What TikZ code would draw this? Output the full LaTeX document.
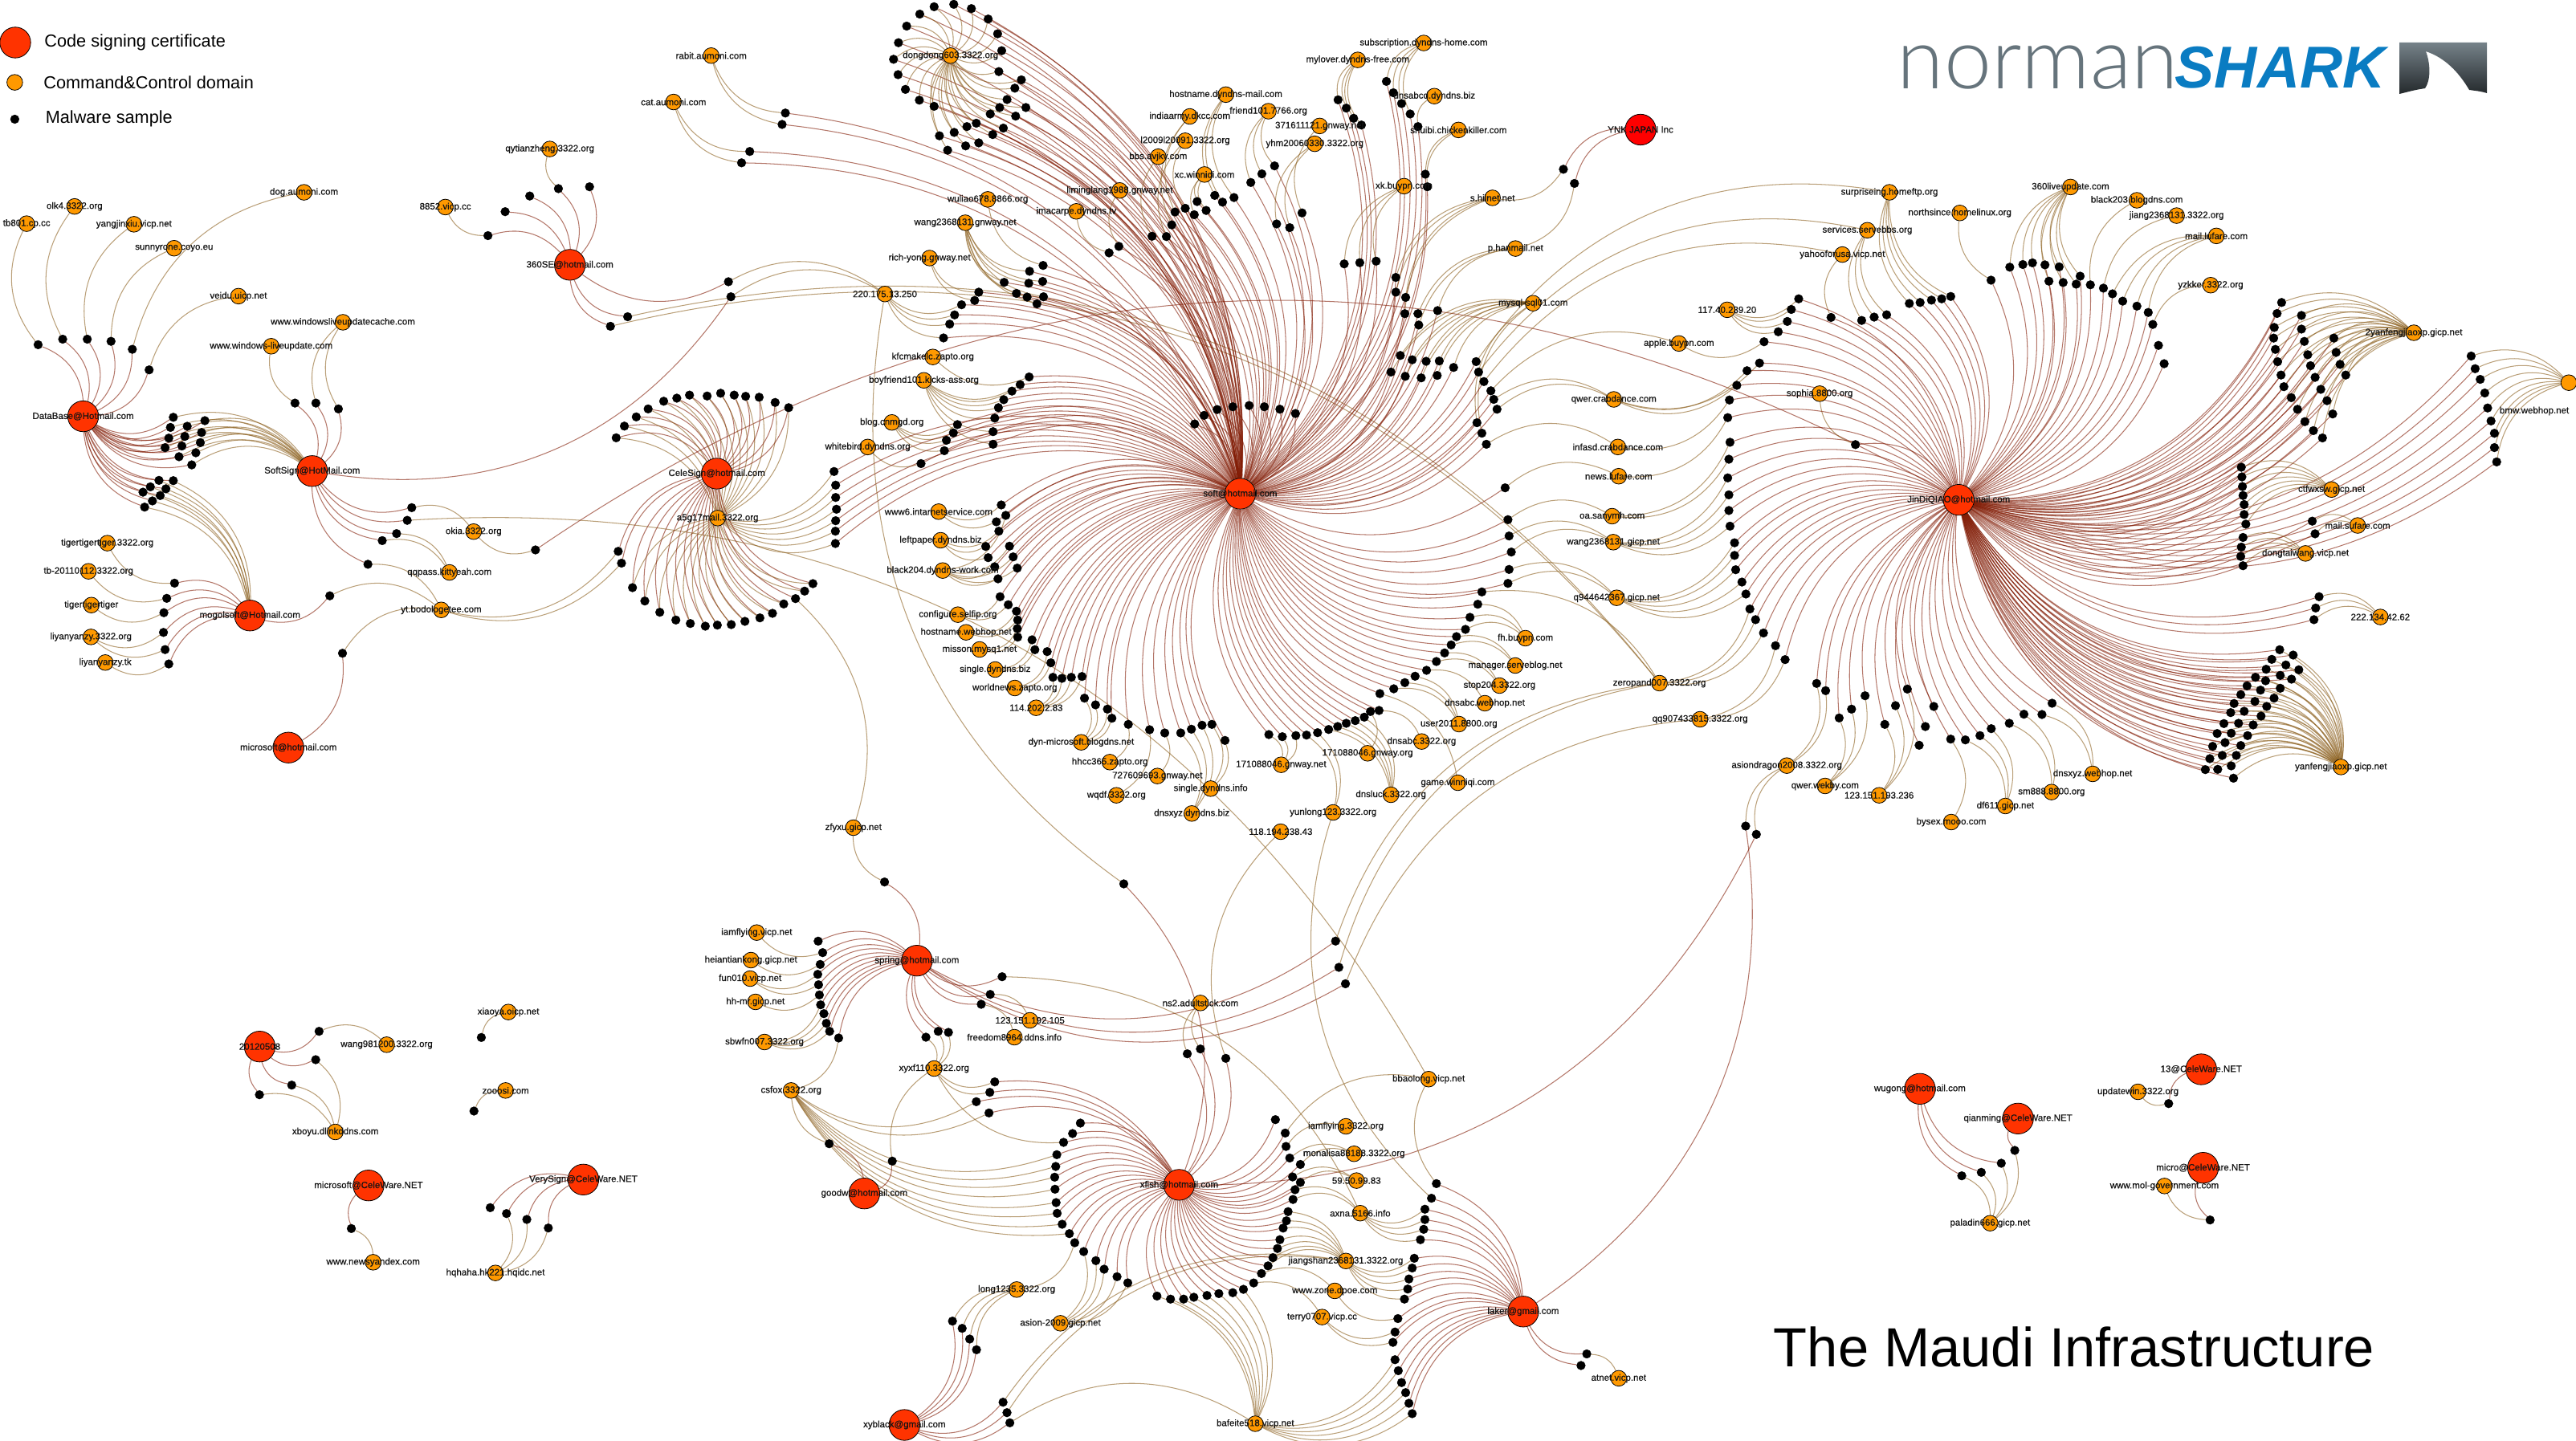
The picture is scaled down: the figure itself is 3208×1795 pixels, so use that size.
\documentclass[tikz,border=0pt]{standalone}
\usepackage{fontspec}
\setmainfont{Liberation Sans}
\newfontfamily\logothin{Lato}[UprightFont={* Light}]
\newfontfamily\labfont[RawFeature={embolden=0.5}]{Liberation Sans}
\pgfdeclarelayer{bgl}\pgfdeclarelayer{edges}\pgfdeclarelayer{dots}
\pgfsetlayers{bgl,edges,dots,main}
\definecolor{certred}{HTML}{FF3300}
\definecolor{domor}{HTML}{FF9900}
\definecolor{edgered}{RGB}{130,28,5}
\definecolor{edgetan}{RGB}{140,96,30}
\definecolor{sharkblue}{HTML}{0A7CC2}
\definecolor{logogray}{HTML}{66747C}
\tikzset{
 x=.25pt,y=-.25pt,
 certnode/.style={circle,draw=black,line width=.2pt,fill=certred,minimum size=9.6pt,inner sep=0pt},
 domnode/.style={circle,draw=black,line width=.2pt,fill=domor,minimum size=4.9pt,inner sep=0pt},
 smpnode/.style={circle,draw=black,line width=.1pt,fill=black,minimum size=2.7pt,inner sep=0pt},
 lab/.style={font=\labfont\fontsize{2.875}{3}\selectfont,inner sep=0pt,text=black!92},
 legtext/.style={font=\fontsize{5.425}{6}\selectfont,inner sep=0pt,anchor=west},
 certedge/.style={draw=edgered,draw opacity=.6,line width=.26pt},
 domedge/.style={draw=edgetan,draw opacity=.6,line width=.26pt},
}
\newcount\smpcnt
\newif\ifsmpnodes
\newcommand\Zm[4]{\gdef\zox{#1}\gdef\zoy{#2}\gdef\zsx{#3}\gdef\zsy{#4}}
\newcommand\zA{\Zm{0}{0}{1.96}{2.613}}
\newcommand\zB{\Zm{0}{450}{1.96}{2.851}}
\newcommand\zC{\Zm{750}{0}{1.96}{2.613}}
\newcommand\zD{\Zm{1400}{0}{1.96}{2.613}}
\newcommand\zE{\Zm{2100}{150}{1.415}{2.412}}
\newcommand\zF{\Zm{1050}{600}{1.96}{3}}
\newcommand\zG{\Zm{1800}{600}{1.4255}{3}}
\newcommand\zH{\Zm{800}{1000}{1.96}{3}}
\newcommand\zI{\Zm{1400}{1200}{1.96}{2.635}}
\newcommand\zJ{\Zm{900}{1350}{2.24}{3}}
\newcommand\zK{\Zm{2300}{1280}{1.727}{3}}
\newcommand\zL{\Zm{250}{1200}{2.613}{3}}
\newcommand\zN{\Zm{740}{500}{3}{3}}
\newcommand\zO{\Zm{0}{0}{.4888}{.4888}}
\newcommand\calcp[2]{\pgfmathsetmacro\px{\zox+#1/\zsx}\pgfmathsetmacro\py{\zoy+#2/\zsy}}
\newcommand\Dm[4]{\calcp{#2}{#3}\node[domnode,label={[lab]center:#4}] (#1) at (\px,\py) {};}
\newcommand\Ce[4]{\calcp{#2}{#3}\node[certnode,label={[lab]center:#4}] (#1) at (\px,\py) {};}
\def\dashm{-}
\newcommand\Sm[3]{\def\tmpc{#1}\def\tmpd{#2}%
 \foreach \qa/\qb in {#3}{%
  \global\advance\smpcnt by 1
  \edef\sn{s\the\smpcnt}%
  \ifsmpnodes
   \calcp{\qa}{\qb}\node[smpnode] (\sn) at (\px,\py) {};
  \else
   \ifx\tmpc\dashm\else\draw[certedge] (#1) to[bend right=32] (\sn);\fi
   \ifx\tmpd\dashm\else\draw[domedge] (#2) to[bend right=32] (\sn);\fi
  \fi
 }}
\newcommand\AllSm{%
\zA
\Sm{database}{tb}{93/1122}
\Sm{database}{olk}{153/1104}
\Sm{database}{yangj}{213/1104}
\Sm{database}{sunny}{271/1111}
\Sm{database}{dogd}{323/1137}
\Sm{database}{veidu}{364/1204}
\Sm{softsign}{wincache}{771/1312,826/1331}
\Sm{softsign}{winlive}{720/1312}
\Sm{seis}{qytian}{1363/614}
\Sm{seis}{-}{1439/608,1293/638,1233/689}
\Sm{seis}{eight}{1191/767}
\zB
\Sm{database}{softsign}{423/199,416/235,457/231,500/211,412/273,451/267,492/253,403/307,444/301,489/289,437/339,478/325,468/368}
\Sm{database}{mogol}{388/423,423/424,367/446,405/453,349/465,391/477,372/496,353/518}
\Sm{mogol}{tigeraa}{426/788}
\Sm{mogol}{tbtwo}{407/842}
\Sm{mogol}{tigerbb}{400/893}
\Sm{mogol}{liyan}{399/963,403/1024}
\Sm{mogol}{liytk}{412/1075}
\Sm{softsign}{okia}{1005/520}
\Sm{softsign}{bbao}{994/565}
\Sm{softsign}{qqpass}{968/612,933/637}
\Sm{softsign}{ytb}{898/721}
\Sm{mogol}{ytb}{805/833}
\Sm{microhot}{ytb}{836/1037}
\Sm{jin}{okia}{1307/670}
\Sm{celesign}{ytb}{1509/675,1517/717}
\zC
\Sm{seis}{zeropand}{62/1031,20/1062}
\Sm{seis}{twotwenty}{308/917}
\Sm{softsign}{twotwenty}{314/966}
\Sm{soft}{rabit}{447/368,439/405}
\Sm{soft}{catd}{360/493,340/530}
\Sm{soft}{dongdong}{810/22,858/14,901/28,942/62,965/110,975/165,775/46,743/85,723/139,711/193,722/243,740/291,774/326,810/346,968/233,1023/260,1007/287,988/324,1034/350,970/350,947/371,1009/378,979/417,913/401,890/412,953/438,859/431,823/442,919/465,887/475,843/489}
\Sm{soft}{wuliao}{1076/864}
\Sm{soft}{wanggn}{1043/883,981/919,1041/922,1075/916,1011/955,1037/967,1061/989,1077/966}
\Sm{soft}{rich}{919/951,909/978}
\Sm{soft}{twotwenty}{877/992,860/1025,848/1055,833/1100}
\Sm{soft}{kfc}{1042/1227}
\Sm{soft}{boyf}{1020/1252,1000/1273,980/1301,967/1327,958/1361,954/1405,954/1446}
\Sm{soft}{blogd}{867/1382,857/1409,840/1433,835/1467}
\Sm{soft}{whitebird}{778/1509}
\Sm{soft}{imacarpe}{1237/823}
\Sm{soft}{liming}{1261/802}
\Sm{celesign}{infobas}{34/1425,54/1387,83/1357,112/1331,150/1306,182/1296,213/1286,256/1289,289/1280,322/1286,350/1290,383/1293,422/1310,455/1327}
\zD
\Sm{soft}{-}{172/1380,195/1352,227/1333,265/1324,305/1320,342/1324,380/1332,418/1346}
\Sm{soft}{bbs}{68/769}
\Sm{soft}{ltwo}{103/770,149/678}
\Sm{soft}{india}{116/732,124/690}
\Sm{soft}{xcw}{171/699,200/685,178/656}
\Sm{soft}{hostmail}{221/636,240/658,268/643}
\Sm{soft}{friend}{309/594,336/566,367/540}
\Sm{soft}{threeseven}{434/693}
\Sm{soft}{yhm}{372/729,404/741}
\Sm{soft}{mylover}{522/325,542/352,560/385,579/407}
\Sm{soft}{subscr}{640/265,657/302,677/337,698/371}
\Sm{soft}{dnsabcd}{717/412}
\Sm{soft}{shuibi}{735/567,740/608}
\Sm{soft}{xkb}{537/859,575/855,615/850}
\Sm{soft}{shinet}{663/903,663/951,687/968,685/1021}
\Sm{ynk}{shinet}{1072/551}
\Sm{ynk}{phan}{1099/597}
\Sm{soft}{phan}{717/1021,719/1058,765/1011}
\Sm{soft}{mysqld}{674/1157,703/1171,737/1176,769/1175,804/1196,651/1211,686/1225,725/1230,764/1222,861/1376,873/1410}
\Sm{soft}{surprise}{859/1177}
\Sm{soft}{services}{865/1211}
\Sm{soft}{yahoofor}{878/1242}
\Sm{soft}{apple}{895/1272}
\Sm{soft}{qwercr}{902/1300,910/1332}
\Sm{soft}{infasd}{884/1446}
\zE
\Sm{jin}{surprise}{393/550,412/547,432/540,450/536,466/529}
\Sm{jin}{services}{309/601,331/591,353/584}
\Sm{jin}{yahoofor}{255/592}
\Sm{jin}{north}{537/480}
\Sm{jin}{livesix}{570/441,593/433,610/428,632/434,657/440,639/483,664/487,687/492,694/468}
\Sm{jin}{black}{712/494}
\Sm{jin}{jiangq}{735/504}
\Sm{jin}{lufare}{751/521,769/543,794/558,814/577}
\Sm{jin}{yzkker}{822/613}
\Sm{jin}{-}{832/676,842/731}
\Sm{jin}{sophia}{298/974}
\Sm{jin}{oneseven}{198/536,185/568,178/604,162/635}
\Sm{jin}{apple}{137/665}
\Sm{jin}{qwercr}{129/729,107/752,89/796}
\Sm{jin}{infasd}{76/840}
\Sm{jin}{newsd}{73/893}
\Sm{jin}{oasan}{77/967,75/1018}
\Sm{jin}{wanggi}{73/1074,75/1125,75/1172,77/1219}
\Sm{jin}{qnine}{85/1269,85/1307,87/1350,98/1387,105/1423}
\Sm{jin}{zeropand}{112/1468,122/1500,136/1540}
\Sm{jin}{twoyan}{1049/547,1041/580,1036/622,1035/654,1038/688,1042/725,1048/765,1053/800,1066/833,1077/868,1090/905,1105/932,1121/954,1084/586,1084/627,1089/664,1095/704,1100/737,1108/772,1118/808,1129/842,1139/882,1141/654,1145/697,1152/733,1162/765}
\Sm{jin}{bmw}{1383/708,1390/746,1399/778,1407/819,1412/864,1418/903,1424/940,1424/983,1428/1026}
\Sm{jin}{ctf}{978/1042,979/1071,980/1100,981/1127,983/1154,983/1184,986/1213}
\Sm{jin}{sufare}{1103/1204,1108/1242}
\Sm{jin}{dongtai}{981/1253,978/1282,977/1310,981/1338}
\Sm{jin}{twotwotwo}{1115/1431,1109/1465,1106/1500}
\zF
\Sm{soft}{wwwsix}{386/87,374/150}
\Sm{soft}{leftpaper}{380/185,348/242,354/284}
\Sm{soft}{blackfour}{397/126,406/241,415/281,370/318,425/323,378/363}
\Sm{soft}{configure}{383/430,403/460}
\Sm{soft}{hostweb}{423/484,426/517}
\Sm{soft}{misson}{425/549,426/581}
\Sm{soft}{singbiz}{461/591,468/628}
\Sm{soft}{worldnews}{498/635,507/677}
\Sm{soft}{oneonefour}{512/731,534/735,557/731,583/728}
\Sm{soft}{dynms}{589/809,616/834,645/850,656/884}
\Sm{soft}{hhcc}{696/907}
\Sm{soft}{wqdf}{748/927}
\Sm{soft}{seventwo}{785/939}
\Sm{soft}{dnsxyzb}{824/939,850/925,876/910}
\Sm{soft}{singinfo}{900/907,932/967}
\Sm{soft}{onenet}{1039/945,1072/953,1105/949}
\Sm{soft}{yunlong}{1131/947,1158/938}
\Sm{soft}{dnsluck}{1185/926,1207/915,1228/903,1250/893,1272/880}
\Sm{soft}{oneorg}{1287/859}
\Sm{soft}{dnsabcq}{1308/855}
\Sm{soft}{gamew}{1310/792}
\Sm{soft}{usertwo}{1344/774,1371/751,1396/727}
\Sm{soft}{dnsabcw}{1424/705}
\Sm{soft}{stoptwo}{1448/672,1468/640}
\Sm{soft}{manager}{1484/610,1497/579}
\Sm{soft}{fhb}{1519/552,1530/507,1549/458}
\Sm{soft}{zeropand}{1559/412}
\zG
\Sm{soft}{newsd}{106/23}
\Sm{soft}{oasan}{111/142}
\Sm{soft}{wanggi}{113/203,117/263}
\Sm{soft}{qnine}{113/328,111/380}
\Sm{jin}{qqnine}{586/613,603/665}
\Sm{jin}{asiondr}{659/754,675/781}
\Sm{laker}{asiondr}{533/1287}
\Sm{xfish}{asiondr}{552/1318}
\Sm{jin}{qwerwe}{699/883,721/850,745/800}
\Sm{jin}{onetwothree}{780/907,799/837,820/775}
\Sm{jin}{-}{852/915,841/985,867/840}
\Sm{jin}{bysex}{897/962}
\Sm{jin}{dfsix}{923/965,949/949,969/923}
\Sm{jin}{smeight}{1001/903,1027/869}
\Sm{jin}{dnsxyzw}{1059/870,1077/828}
\Sm{jin}{yanfeng}{1481/628,1505/648,1467/664,1492/685,1457/701,1515/703,1438/731,1482/724,1502/738,1456/744,1423/763,1447/779,1482/772,1412/796,1437/821,1471/809,1400/829,1458/840,1394/863,1418/858,1448/876,1382/904,1408/903,1434/909,1370/941,1395/940,1424/949,1362/989,1384/975,1412/986,1357/1035,1379/1023,1404/1023,1349/1076,1371/1075,1395/1062,1399/1108}
\zN
\Sm{soft}{infobas}{896/262,902/313,902/359,905/403,902/446,901/485,901/531}
\Sm{celesign}{infobas}{143/696,189/746,245/788,305/817,359/830,415/840,460/836,512/834,563/822,619/809,666/792,708/757,786/709,817/681}
\Sm{celesign}{zfyxu}{752/737}
\zO
\Sm{spring}{zeropand}{813/573,815/589}
\Sm{spring}{qqnine}{819/599}
\zH
\Sm{spring}{zfyxu}{591/296}
\Sm{spring}{-}{429/517}
\Sm{spring}{iamvicp}{440/560}
\Sm{spring}{heian}{434/604}
\Sm{spring}{funz}{428/641,430/680}
\Sm{spring}{hhmr}{432/718}
\Sm{spring}{sbwfn}{435/755,443/788,449/824,457/854}
\Sm{spring}{csfox}{479/879}
\Sm{spring}{xyxf}{692/876,722/854,747/858}
\Sm{spring}{onetwoone}{849/716}
\Sm{spring}{freedom}{827/753}
\Sm{spring}{axna}{878/650}
\Sm{xfish}{twotwenty}{1175/303}
\Sm{xfish}{nstwo}{1330/938,1362/920}
\Sm{xfish}{oneeight}{1424/955}
\Sm{xfish}{xyxf}{860/1043,848/1082,1028/1269}
\Sm{xfish}{csfox}{815/1117,846/1159}
\Sm{xfish}{-}{1069/1197,1050/1236}
\zJ
\Sm{xfish}{csfox}{932/265,929/309,926/349,927/394,930/444,933/484,947/525,967/560}
\Sm{xfish}{longone}{982/594}
\Sm{goodw}{csfox}{297/224}
\Sm{goodw}{xyxf}{473/289}
\Sm{xfish}{asion}{1007/627,1041/661,1064/693,1100/721,1130/744}
\Sm{xyblack}{longone}{641/887,668/914,689/954,708/994}
\Sm{xyblack}{jiangshan}{782/1190,793/1229}
\Sm{xyblack}{bafeite}{801/1267}
\zI
\Sm{xfish}{-}{369/513}
\Sm{xfish}{bbao}{393/557}
\Sm{xfish}{iamq}{395/601}
\Sm{xfish}{monalisa}{404/639,430/660}
\Sm{xfish}{fiftynine}{411/701,430/719}
\Sm{xfish}{axna}{417/743,412/775}
\Sm{xfish}{jiangshan}{400/815,396/845,388/869,380/907,374/936,363/966,351/993}
\Sm{xfish}{zone}{335/1018}
\Sm{xfish}{terry}{316/1049}
\Sm{xfish}{bafeite}{291/1070,265/1081,231/1084,202/1090,170/1096,145/1102,113/1102,80/1092}
\Sm{laker}{bbao}{762/723}
\Sm{laker}{yunlong}{750/771}
\Sm{laker}{axna}{734/807,734/841,731/873,723/907}
\Sm{laker}{jiangshan}{708/968,703/1000,695/1036,692/1069,684/1102}
\Sm{laker}{zone}{668/1166}
\Sm{laker}{terry}{661/1210,656/1244}
\Sm{laker}{bafeite}{661/1301,669/1337,677/1376,687/1409,695/1444,703/1478}
\Sm{laker}{atnet}{1129/1282}
\Sm{laker}{-}{1115/1320}
\zK
\Sm{wugong}{paladin}{247/554,289/541,332/507}
\Sm{qianming}{paladin}{361/459}
\Sm{thirteen}{updatewin}{692/284}
\Sm{microcw}{molgov}{781/719}
\zL
\Sm{twelve}{wangnine}{385/254}
\Sm{twelve}{xboyu}{374/360,296/455,191/491}
\Sm{-}{xiaoya}{913/277}
\Sm{-}{zooosi}{889/552}
\Sm{microsoftcw}{newsy}{490/991}
\Sm{verisign}{-}{942/913}
\Sm{verisign}{hqhaha}{995/935,1061/957,1131/989}
}
\begin{document}
\begin{tikzpicture}
\useasboundingbox (0,0) rectangle (3208,1795);
\begin{pgfonlayer}{bgl}\fill[white] (0,0) rectangle (3208,1795);\end{pgfonlayer}
% legend
\node[certnode] (legC) at (19,53) {};
\node[domnode] (legD) at (18.4,102.6) {};
\node[smpnode] (legS) at (18.4,148.5) {};
\node[legtext] (legCt) at (54.6,53) {Code signing certificate};
\node[legtext] (legDt) at (53.6,102.6) {Command\&Control domain};
\node[legtext] (legSt) at (56,147.5) {Malware sample};
% title
\node[font=\fontsize{17.175}{18}\selectfont,anchor=base,inner sep=0pt] (title) at (2583,1702) {The Maudi Infrastructure};
% logo
\node[font=\logothin\fontsize{26.5}{28}\selectfont,anchor=base west,inner sep=0pt,text=logogray] (logoN) at (2362,111) {norman};
\node[font=\fontsize{18.4}{20}\selectfont\bfseries\itshape,anchor=base west,inner sep=0pt,text=sharkblue] (logoS) at (2708,110) {SHARK};
\shade[top color=logogray!90,bottom color=black!65!logogray] (2988,53) -- (3097,53) -- (3097,116) .. controls (3090,114) .. (3075,112) .. controls (3062,90) and (3045,72) .. (3021,64) .. controls (3027,80) and (3027,100) .. (3020,110) .. controls (3008,112) .. (2988,117) -- cycle;

% ===== certificates and domains =====
\zA
\Ce{database}{203}{1355}{DataBase@Hotmail.com}
\Ce{seis}{1391}{862}{360SE@hotmail.com}
\Dm{tb}{65}{728}{tb801.cp.cc}
\Dm{olk}{182}{672}{olk4.3322.org}
\Dm{yangj}{327}{730}{yangjinxiu.vicp.net}
\Dm{sunny}{425}{808}{sunnyrone.coyo.eu}
\Dm{dogd}{742}{626}{dog.aumoni.com}
\Dm{veidu}{582}{964}{veidu.uicp.net}
\Dm{wincache}{837}{1049}{www.windowsliveupdatecache.com}
\Dm{winlive}{662}{1127}{www.windows-liveupdate.com}
\Dm{qytian}{1342}{485}{qytianzheng.3322.org}
\Dm{eight}{1087}{674}{8852.vicp.cc}
\zB
\Ce{softsign}{762}{390}{SoftSign@HotMail.com}
\Ce{mogol}{610}{903}{mogolsoft@Hotmail.com}
\Ce{microhot}{704}{1372}{microsoft@hotmail.com}
\Dm{okia}{1156}{605}{okia.3322.org}
\Dm{qqpass}{1097}{750}{qqpass.kittyeah.com}
\Dm{ytb}{1077}{883}{yt.bodologetee.com}
\Dm{tigeraa}{262}{646}{tigertigertiger.3322.org}
\Dm{tbtwo}{216}{746}{tb-20110112.3322.org}
\Dm{tigerbb}{223}{866}{tigertigertiger}
\Dm{liyan}{222}{979}{liyanyanzy.3322.org}
\Dm{liytk}{257}{1070}{liyanyanzy.tk}
\zC
\Dm{rabit}{266}{181}{rabit.aumoni.com}
\Dm{catd}{174}{332}{cat.aumoni.com}
\Dm{dongdong}{850}{181}{dongdong603.3322.org}
\Dm{wuliao}{941}{649}{wuliao678.8866.org}
\Dm{wanggn}{886}{725}{wang2368131.gnway.net}
\Dm{liming}{1263}{620}{liminglang1988.gnway.net}
\Dm{imacarpe}{1157}{688}{imacarpe.dyndns.tv}
\Dm{rich}{799}{840}{rich-yong.gnway.net}
\Dm{twotwenty}{690}{957}{220.175.13.250}
\Dm{kfc}{807}{1162}{kfcmakelc.zapto.org}
\Dm{boyf}{785}{1238}{boyfriend101.kicks-ass.org}
\Dm{blogd}{707}{1375}{blog.cnmgd.org}
\Dm{whitebird}{648}{1455}{whitebird.dyndns.org}
\zD
\Dm{hostmail}{248}{308}{hostname.dyndns-mail.com}
\Dm{india}{160}{379}{indiaarmy.dkcc.com}
\Dm{ltwo}{149}{458}{l2009l20091.3322.org}
\Dm{bbs}{83}{510}{bbs.avjkv.com}
\Dm{xcw}{196}{568}{xc.winnidi.com}
\Dm{friend}{352}{362}{friend101.7766.org}
\Dm{threeseven}{477}{410}{371611121.gnway.net}
\Dm{yhm}{465}{468}{yhm20060330.3322.org}
\Dm{mylover}{570}{195}{mylover.dyndns-free.com}
\Dm{subscr}{731}{140}{subscription.dyndns-home.com}
\Dm{dnsabcd}{757}{313}{dnsabcd.dyndns.biz}
\Dm{shuibi}{816}{423}{shuibi.chickenkiller.com}
\Dm{xkb}{683}{606}{xk.buypn.com}
\Dm{shinet}{899}{644}{s.hiinet.net}
\Dm{phan}{955}{809}{p.hanmail.net}
\Dm{mysqld}{998}{987}{mysql-sql01.com}
\Dm{apple}{1354}{1118}{apple.buypn.com}
\Dm{qwercr}{1195}{1300}{qwer.crabdance.com}
\Dm{infasd}{1205}{1455}{infasd.crabdance.com}
\Dm{newsd}{1207}{1550}{news.lufare.com}
\node[certnode,fill=red,label={[lab]center:YNK JAPAN Inc}] (ynk) at (2043,161.5) {};
\zE
\Ce{jin}{480}{1140}{JinDiQIAO@hotmail.com}
\Dm{surprise}{358}{216}{surpriseing.homeftp.org}
\Dm{services}{319}{330}{services.servebbs.org}
\Dm{yahoofor}{275}{403}{yahooforusa.vicp.net}
\Dm{north}{482}{278}{northsince.homelinux.org}
\Dm{livesix}{677}{200}{360liveupdate.com}
\Dm{black}{794}{240}{black203.blogdns.com}
\Dm{jiangq}{864}{286}{jiang2368131.3322.org}
\Dm{lufare}{934}{347}{mail.lufare.com}
\Dm{yzkker}{924}{495}{yzkker.3322.org}
\Dm{oneseven}{72}{569}{117.40.239.20}
\Dm{sophia}{235}{821}{sophia.8800.org}
\Dm{twoyan}{1282}{638}{2yanfengjiaoxp.gicp.net}
\Dm{bmw}{1555}{788}{}
\node[lab] (bmwlab) at (3156,512) {bmw.webhop.net};
\Dm{ctf}{1137}{1109}{ctfwxsw.gicp.net}
\Dm{sufare}{1183}{1217}{mail.sufare.com}
\Dm{dongtai}{1091}{1301}{dongtaiwang.vicp.net}
\Dm{twotwotwo}{1223}{1492}{222.134.42.62}
\zF
\Ce{soft}{969}{45}{soft@hotmail.com}
\Dm{wwwsix}{233}{112}{www6.intarnetservice.com}
\Dm{leftpaper}{238}{219}{leftpaper.dyndns.biz}
\Dm{blackfour}{243}{332}{black204.dyndns-work.com}
\Dm{configure}{280}{497}{configure.selfip.org}
\Dm{hostweb}{300}{563}{hostname.webhop.net}
\Dm{misson}{333}{627}{misson.mysq1.net}
\Dm{singbiz}{371}{702}{single.dyndns.biz}
\Dm{worldnews}{419}{771}{worldnews.zapto.org}
\Dm{oneonefour}{471}{845}{114.202.2.83}
\Dm{dynms}{581}{974}{dyn-microsoft.blogdns.net}
\Dm{hhcc}{651}{1048}{hhcc365.zapto.org}
\Dm{seventwo}{767}{1100}{727609693.gnway.net}
\Dm{wqdf}{667}{1172}{wqdf.3322.org}
\Dm{singinfo}{897}{1147}{single.dyndns.info}
\Dm{dnsxyzb}{851}{1240}{dnsxyz.dyndns.biz}
\Dm{onenet}{1069}{1058}{171088046.gnway.net}
\Dm{oneorg}{1280}{1015}{171088046.gnway.org}
\Dm{dnsabcq}{1412}{971}{dnsabc.3322.org}
\Dm{dnsluck}{1337}{1170}{dnsluck.3322.org}
\Dm{yunlong}{1196}{1236}{yunlong123.3322.org}
\Dm{oneeight}{1068}{1308}{118.194.238.43}
\zG
\Dm{oasan}{296}{129}{oa.sanymh.com}
\Dm{wanggi}{298}{226}{wang2368131.gicp.net}
\Dm{qnine}{304}{434}{q944642367.gicp.net}
\Dm{zeropand}{380}{753}{zeropand007.3322.org}
\Dm{qqnine}{452}{888}{qq907433815.3322.org}
\Dm{fhb}{142}{585}{fh.buypn.com}
\Dm{manager}{124}{687}{manager.serveblog.net}
\Dm{stoptwo}{96}{762}{stop204.3322.org}
\Dm{dnsabcw}{70}{828}{dnsabc.webhop.net}
\Dm{usertwo}{24}{906}{user2011.8800.org}
\Dm{gamew}{22}{1125}{game.winniqi.com}
\Dm{asiondr}{606}{1061}{asiondragon2008.3322.org}
\Dm{qwerwe}{674}{1137}{qwer.wekby.com}
\Dm{onetwothree}{770}{1172}{123.151.193.236}
\Dm{bysex}{898}{1272}{bysex.mooo.com}
\Dm{dfsix}{994}{1212}{df611.gicp.net}
\Dm{smeight}{1076}{1160}{sm888.8800.org}
\Dm{dnsxyzw}{1149}{1092}{dnsxyz.webhop.net}
\zO
\Dm{yanfeng}{1425}{467}{yanfengjiaoxp.gicp.net}
\zN
\Ce{celesign}{458}{270}{CeleSign@hotmail.com}
\Dm{infobas}{461}{436}{a5g17mail.3322.org}
\zH
\Ce{spring}{670}{590}{spring@hotmail.com}
\Dm{zfyxu}{515}{93}{zfyxu.gicp.net}
\Dm{iamvicp}{279}{485}{iamflying.vicp.net}
\Dm{heian}{265}{588}{heiantiankong.gicp.net}
\Dm{funz}{263}{657}{fun010.vicp.net}
\Dm{hhmr}{276}{744}{hh-mr.gicp.net}
\Dm{sbwfn}{298}{894}{sbwfn007.3322.org}
\Dm{onetwoone}{946}{813}{123.151.192.105}
\Dm{freedom}{908}{876}{freedom8964.ddns.info}
\Dm{xyxf}{712}{993}{xyxf110.3322.org}
\Dm{csfox}{363}{1075}{csfox.3322.org}
\Dm{nstwo}{1362}{748}{ns2.adultstick.com}
\zI
\Ce{xfish}{134}{727}{xfish@hotmail.com}
\Ce{laker}{974}{1143}{laker@gmail.com}
\Dm{bbao}{743}{380}{bbaolong.vicp.net}
\Dm{iamq}{541}{535}{iamflying.3322.org}
\Dm{monalisa}{561}{625}{monalisa88188.3322.org}
\Dm{fiftynine}{567}{713}{59.50.99.83}
\Dm{axna}{576}{820}{axna.5166.info}
\Dm{jiangshan}{541}{977}{jiangshan2368131.3322.org}
\Dm{zone}{514}{1075}{www.zone.dpoe.com}
\Dm{terry}{483}{1161}{terry0707.vicp.cc}
\Dm{bafeite}{320}{1511}{bafeite518.vicp.net}
\Dm{atnet}{1207}{1362}{atnet.vicp.net}
\zJ
\Ce{goodw}{395}{410}{goodw@hotmail.com}
\Ce{xyblack}{507}{1275}{xyblack@gmail.com}
\Dm{longone}{820}{769}{long1235.3322.org}
\Dm{asion}{942}{895}{asion-2009.gicp.net}
\zK
\Ce{wugong}{157}{229}{wugong@hotmail.com}
\Ce{qianming}{368}{340}{qianming@CeleWare.NET}
\Ce{thirteen}{762}{156}{13@CeleWare.NET}
\Ce{microcw}{766}{524}{micro@CeleWare.NET}
\Dm{paladin}{308}{731}{paladin666.gicp.net}
\Dm{updatewin}{626}{240}{updatewin.3322.org}
\Dm{molgov}{683}{592}{www.mol-government.com}
\zL
\Ce{twelve}{192}{311}{20120508}
\Ce{microsoftcw}{546}{830}{microsoft@CeleWare.NET}
\Ce{verisign}{1245}{808}{VerySign@CeleWare.NET}
\Dm{wangnine}{605}{304}{wang981200.3322.org}
\Dm{xboyu}{438}{630}{xboyu.dlinkddns.com}
\Dm{xiaoya}{1001}{182}{xiaoya.oicp.net}
\Dm{zooosi}{992}{475}{zooosi.com}
\Dm{newsy}{561}{1117}{www.newsyandex.com}
\Dm{hqhaha}{959}{1157}{hqhaha.hk221.hqidc.net}

% ===== samples (dots layer), then connectors (edges layer) =====
\begin{pgfonlayer}{dots}
\smpnodestrue\global\smpcnt=0
\AllSm
\end{pgfonlayer}
\begin{pgfonlayer}{edges}
\smpnodesfalse\global\smpcnt=0
\AllSm
\end{pgfonlayer}
\end{tikzpicture}
\end{document}
